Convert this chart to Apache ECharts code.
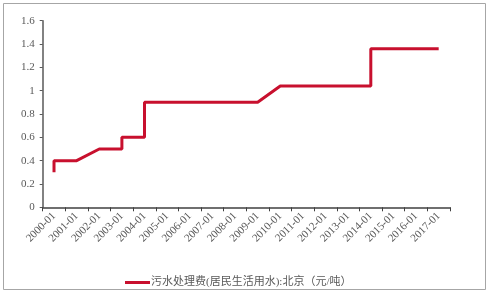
<!DOCTYPE html>
<html><head><meta charset="utf-8">
<script src="https://cdn.jsdelivr.net/npm/echarts@6/dist/echarts.min.js"></script>
<style>html,body{margin:0;padding:0;background:#fff}#c{width:490px;height:293px}</style>
</head><body><div id="c"></div>
<script>
const xLabels = ['2000-01','2001-01','2002-01','2003-01','2004-01','2005-01','2006-01','2007-01','2008-01','2009-01','2010-01','2011-01','2012-01','2013-01','2014-01','2015-01','2016-01','2017-01'];
const pointDates = ['2000-01','2000-01','2001-01','2002-01','2003-01','2003-01','2004-01','2004-01','2009-01','2010-01','2014-01','2014-01','2017-01'];
const pointValues = [0.3,0.4,0.4,0.5,0.5,0.6,0.6,0.9,0.9,1.04,1.04,1.36,1.36];
const yTicks = { min: 0, max: 1.6, interval: 0.2 };
const seriesName = '污水处理费(居民生活用水):北京（元/吨）';

const chart = echarts.init(document.getElementById('c'), null, { renderer: 'canvas' });
const serif = '"Liberation Serif", "Noto Sans CJK SC", serif';
chart.setOption({
  animation: false,
  backgroundColor: '#fff',
  grid: { left: 42.7, right: 40, top: 20.7, bottom: 85.7, containLabel: false },
  graphic: [{ type: 'rect', shape: { x: 3.5, y: 3.5, width: 482, height: 286 }, style: { fill: 'none', stroke: '#a6a6a6', lineWidth: 1 }, silent: true }],
  legend: {
    left: 120, top: 272, icon: 'rect', itemWidth: 25, itemHeight: 3, itemGap: 0,
    textStyle: { fontFamily: serif, fontSize: 11, color: '#595959', padding: [0, 0, 0, -4] },
    data: [seriesName]
  },
  xAxis: {
    type: 'category', data: xLabels, boundaryGap: true,
    axisLine: { lineStyle: { color: '#404040', width: 1.5 } },
    axisTick: { show: true, length: 4, interval: 0, lineStyle: { color: '#404040' } },
    axisLabel: { rotate: 45, interval: 0, fontFamily: serif, fontSize: 11, color: '#595959', margin: 7 },
    splitLine: { show: false }
  },
  yAxis: {
    type: 'value', min: yTicks.min, max: yTicks.max, interval: yTicks.interval,
    axisLine: { show: true, lineStyle: { color: '#595959', width: 1.5 } },
    axisTick: { show: true, length: 3, lineStyle: { color: '#595959' } },
    axisLabel: { fontFamily: serif, fontSize: 11, color: '#595959', margin: 8 },
    splitLine: { show: false }
  },
  series: [{
    name: seriesName, type: 'line',
    data: pointDates.map((d, i) => [d, pointValues[i]]),
    showSymbol: false, symbol: 'none',
    lineStyle: { color: '#c8102e', width: 3 },
    itemStyle: { color: '#c8102e' }
  }]
});
</script></body></html>
